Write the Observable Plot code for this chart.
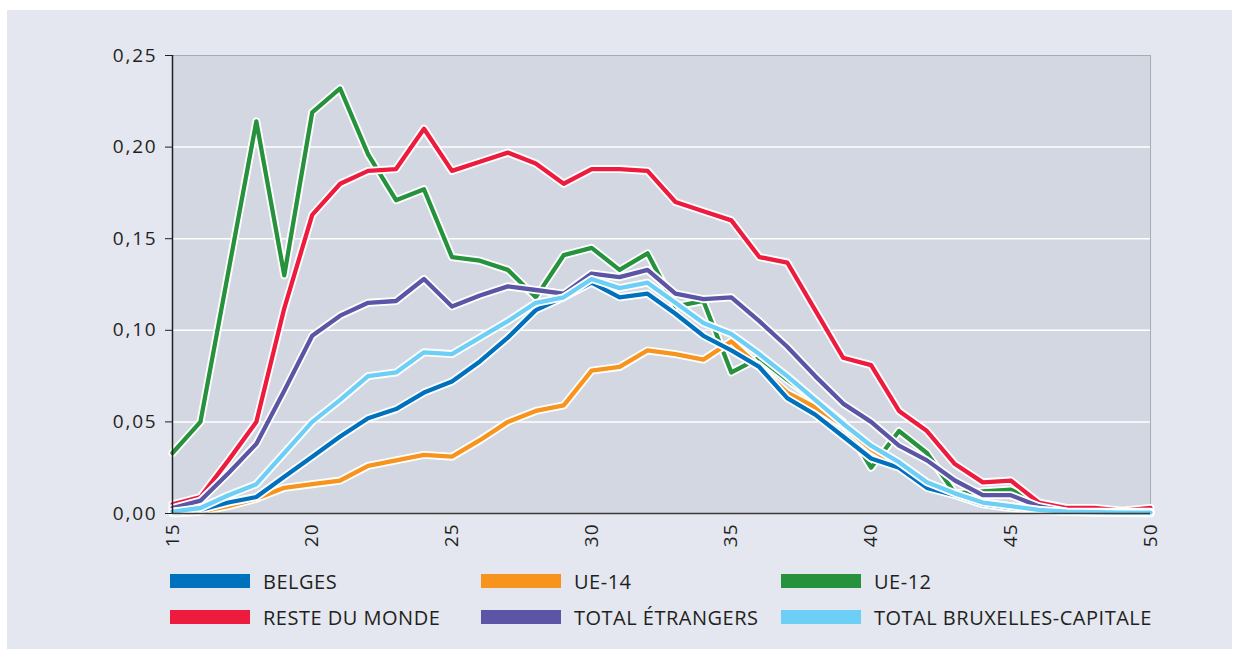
<!DOCTYPE html>
<html>
<head>
<meta charset="utf-8">
<script src="https://cdn.jsdelivr.net/npm/d3@7"></script>
<script src="https://cdn.jsdelivr.net/npm/@observablehq/plot@0.6"></script>
<style>
  body { margin: 0; background: #ffffff; width: 1242px; height: 659px; overflow: hidden; }
  #panel { position: absolute; left: 7px; top: 10px; width: 1225px; height: 639px; background: #e4e7ef; }
  #chart { position: absolute; left: 0; top: 0; }
  #chart g[aria-label="y-axis tick label"] text { letter-spacing: 1.8px; }
  #chart g[aria-label="x-axis tick label"] text { letter-spacing: 1px; }
  .leg { position: absolute; display: flex; align-items: center; font-family: "Open Sans", sans-serif; font-size: 20px; letter-spacing: 0.5px; color: #231f20; white-space: nowrap; }
  .sw { width: 80px; height: 14px; margin-right: 13px; }
</style>
</head>
<body>
<div id="panel">
  <div id="chart"></div>
  <div id="legend"></div>
</div>
<script>
// Categories (age)
const ages = [15,16,17,18,19,20,21,22,23,24,25,26,27,28,29,30,31,32,33,34,35,36,37,38,39,40,41,42,43,44,45,46,47,48,49,50];

// Series values
const belges    = [0.001,0.002,0.006,0.009,0.020,0.031,0.042,0.052,0.057,0.066,0.072,0.083,0.096,0.111,0.118,0.126,0.118,0.120,0.109,0.097,0.089,0.080,0.063,0.054,0.042,0.030,0.025,0.014,0.010,0.005,0.003,0.0015,0.0008,0.0005,0.0003,0.0002];
const ue14      = [0.000,0.001,0.004,0.008,0.014,0.016,0.018,0.026,0.029,0.032,0.031,0.040,0.050,0.056,0.059,0.078,0.080,0.089,0.087,0.084,0.094,0.080,0.066,0.058,0.048,0.035,0.026,0.017,0.011,0.006,0.004,0.002,0.001,0.0005,0.0003,0.0002];
const ue12      = [0.033,0.050,0.132,0.214,0.130,0.219,0.232,0.196,0.171,0.177,0.140,0.138,0.133,0.118,0.141,0.145,0.133,0.142,0.113,0.116,0.077,0.085,0.073,0.062,0.050,0.025,0.045,0.033,0.011,0.012,0.013,0.006,0.002,0.001,0.001,0.001];
const reste     = [0.005,0.009,0.029,0.050,0.112,0.163,0.180,0.187,0.188,0.210,0.187,0.192,0.197,0.191,0.180,0.188,0.188,0.187,0.170,0.165,0.160,0.140,0.137,0.111,0.085,0.081,0.056,0.045,0.027,0.017,0.018,0.006,0.003,0.003,0.0015,0.003];
const etrangers = [0.003,0.007,0.022,0.038,0.067,0.097,0.108,0.115,0.116,0.128,0.113,0.119,0.124,0.122,0.120,0.131,0.129,0.133,0.120,0.117,0.118,0.105,0.091,0.075,0.060,0.050,0.037,0.029,0.018,0.010,0.010,0.004,0.001,0.001,0.001,0.001];
const bxl       = [0.001,0.003,0.010,0.016,0.033,0.050,0.062,0.075,0.077,0.088,0.087,0.096,0.105,0.115,0.118,0.128,0.123,0.126,0.115,0.104,0.098,0.087,0.075,0.062,0.049,0.037,0.028,0.017,0.011,0.006,0.004,0.002,0.001,0.0008,0.0005,0.0005];

// Series labels and colours
const seriesNames  = ["BELGES", "UE-14", "UE-12", "RESTE DU MONDE", "TOTAL ÉTRANGERS", "TOTAL BRUXELLES-CAPITALE"];
const seriesValues = [belges, ue14, ue12, reste, etrangers, bxl];
const seriesColors = ["#0071bc", "#f7941e", "#27923d", "#ed1c3f", "#5c55a5", "#6dcff6"];
const drawOrder    = [2, 3, 1, 4, 0, 5];

// Tick labels
const xTicks = [15, 20, 25, 30, 35, 40, 45, 50];
const yTicks = [0, 0.05, 0.10, 0.15, 0.20, 0.25];
const gridValues = [0.05, 0.10, 0.15, 0.20];

const rows = [];
seriesNames.forEach((name, i) => {
  ages.forEach((a, j) => rows.push({ series: name, age: a, value: seriesValues[i][j] }));
});

const lineMarks = [];
drawOrder.forEach(i => {
  const d = rows.filter(r => r.series === seriesNames[i]);
  lineMarks.push(Plot.line(d, { x: "age", y: "value", stroke: "white", strokeWidth: 8, strokeLinejoin: "round", strokeLinecap: "round" }));
  lineMarks.push(Plot.line(d, { x: "age", y: "value", stroke: seriesColors[i], strokeWidth: 4.3, strokeLinejoin: "round", strokeLinecap: "round" }));
});

const chart = Plot.plot({
  width: 1180,
  height: 548,
  marginLeft: 165,
  marginRight: 37,
  marginTop: 45,
  marginBottom: 45,
  style: { background: "transparent", fontFamily: "'Open Sans', sans-serif", color: "#231f20" },
  x: { domain: [15, 50] },
  y: { domain: [0, 0.25] },
  marks: [
    Plot.frame({ fill: "#d3d7e1" }),
    Plot.ruleY(gridValues, { stroke: "white", strokeWidth: 1.5 }),
    Plot.frame({ stroke: "#a7abb3", strokeWidth: 1 }),
    ...lineMarks,
    Plot.ruleY([0], { stroke: "#3a3a3a", strokeWidth: 1.5 }),
    Plot.ruleX([15], { stroke: "#231f20", strokeWidth: 1.5 }),
    Plot.axisY({ ticks: yTicks, tickFormat: d => d.toFixed(2).replace(".", ","), tickSize: 7, tickPadding: 8, fontSize: 19, stroke: "#231f20", strokeOpacity: 1, fill: "#231f20", label: null }),
    Plot.axisX({ ticks: xTicks, tickFormat: d => String(d), tickSize: 0, tickPadding: 10, tickRotate: -90, fontSize: 19, fill: "#231f20", label: null })
  ]
});
document.getElementById("chart").appendChild(chart);

// Legend (HTML, below plot)
const legendPos = [
  { left: 163, top: 564 }, { left: 474, top: 564 }, { left: 774, top: 564 },
  { left: 163, top: 600 }, { left: 474, top: 600 }, { left: 774, top: 600 }
];
const legend = document.getElementById("legend");
seriesNames.forEach((name, i) => {
  const item = document.createElement("div");
  item.className = "leg";
  item.style.left = legendPos[i].left + "px";
  item.style.top = (legendPos[i].top - 6) + "px";
  item.style.height = "26px";
  const sw = document.createElement("div");
  sw.className = "sw";
  sw.style.background = seriesColors[i];
  const tx = document.createElement("span");
  tx.textContent = name;
  item.appendChild(sw);
  item.appendChild(tx);
  legend.appendChild(item);
});
</script>
</body>
</html>
